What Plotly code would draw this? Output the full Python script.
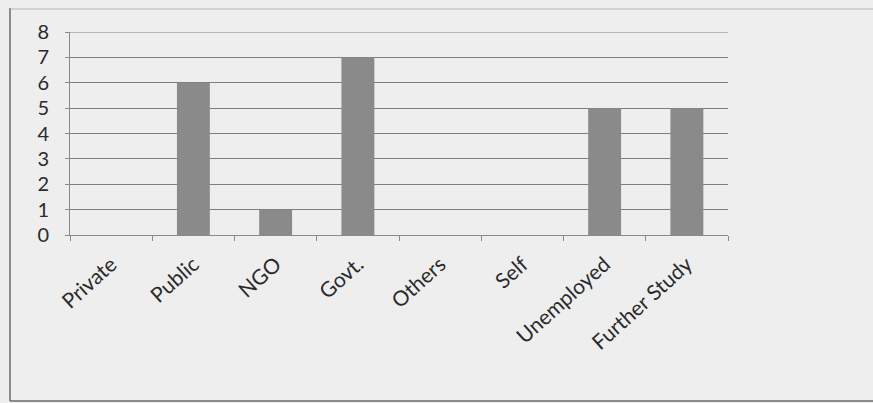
import plotly.graph_objects as go

categories = ["Private", "Public", "NGO", "Govt.", "Others", "Self", "Unemployed", "Further Study"]
values = [0, 6, 1, 7, 0, 0, 5, 5]
y_ticks = [0, 1, 2, 3, 4, 5, 6, 7, 8]

W, H = 873, 403
ml, mr, mt, mb = 70, 145, 32, 168
pw = W - ml - mr
ph = H - mt - mb

fig = go.Figure(go.Bar(x=categories, y=values, marker=dict(color="#8a8a8a", line=dict(width=0)), width=0.4))

fig.update_layout(
    width=W, height=H,
    margin=dict(l=ml, r=mr, t=mt, b=mb, autoexpand=False),
    paper_bgcolor="#eeeeee", plot_bgcolor="#eeeeee",
    showlegend=False,
    font=dict(family="Lato, Open Sans, sans-serif", color="#2a2a2a"),
    bargap=0.6,
)
fig.update_xaxes(
    tickangle=-42, tickfont=dict(size=21, color="#2a2a2a"),
    showline=True, linecolor="#8a8a8a", linewidth=1,
    ticks="outside", tickson="boundaries", ticklen=5, tickcolor="#8a8a8a",
    ticklabelstandoff=8,
    showgrid=False,
)
fig.update_yaxes(
    range=[y_ticks[0], y_ticks[-1]], tickvals=y_ticks, tickfont=dict(size=20, color="#2a2a2a"),
    showline=True, linecolor="#8a8a8a", linewidth=1,
    ticks="outside", ticklen=4, tickcolor="#8a8a8a",
    ticklabelstandoff=12,
    showgrid=True, gridcolor="#7e7e7e", gridwidth=1,
    zeroline=False,
)
# top gridline at the axis maximum (plotly omits grid lines on the plot edge)
fig.add_shape(type="line", xref="paper", yref="y", x0=0, x1=1,
              y0=y_ticks[-1], y1=y_ticks[-1], line=dict(color="#7e7e7e", width=1))
# chart outer border (left, top, bottom edges, as visible in the scan)
fig.add_shape(type="line", xref="paper", yref="paper",
              x0=(10 - ml) / pw, x1=(10 - ml) / pw,
              y0=(H - mb - 8) / ph, y1=(H - mb - 401) / ph,
              line=dict(color="#6a6a6a", width=1.5))
fig.add_shape(type="line", xref="paper", yref="paper",
              x0=(10 - ml) / pw, x1=(W - ml) / pw,
              y0=(H - mb - 9) / ph, y1=(H - mb - 9) / ph,
              line=dict(color="#b5b5b5", width=1))
fig.add_shape(type="line", xref="paper", yref="paper",
              x0=(10 - ml) / pw, x1=(W - ml) / pw,
              y0=(H - mb - 401) / ph, y1=(H - mb - 401) / ph,
              line=dict(color="#6a6a6a", width=1.5))

fig.write_html("out.html", config={"displayModeBar": False},
               post_script="document.body.style.margin='0';")
